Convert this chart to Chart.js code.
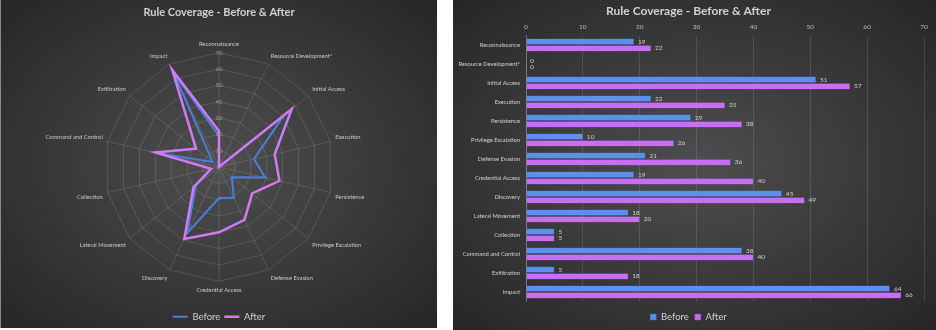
<!DOCTYPE html>
<html>
<head>
<meta charset="utf-8">
<script src="https://cdn.jsdelivr.net/npm/chart.js@4"></script>
<style>
  body { margin: 0; background: #fff; width: 936px; height: 330px; position: relative; overflow: hidden; }
  .painel {
    position: absolute; top: 0; overflow: hidden;
    background: radial-gradient(ellipse at 50% 50%, #4e4e4e 0%, #3c3c3c 45%, #262626 100%);
  }
  #painelRadar { left: 0; width: 437px; height: 328px; border-left: 1px solid #8a8a8a; box-sizing: border-box; }
  #painelBarras { left: 453px; width: 483px; height: 330px; }
  canvas { display: block; }
</style>
</head>
<body>
<div class="painel" id="painelRadar"><canvas id="graficoRadar" width="436" height="328"></canvas></div>
<div class="painel" id="painelBarras"><canvas id="graficoBarras" width="483" height="330"></canvas></div>
<script>
// Dados
const categorias = ['Reconnaissance', 'Resource Development*', 'Initial Access', 'Execution', 'Persistence',
  'Privilege Escalation', 'Defense Evasion', 'Credential Access', 'Discovery', 'Lateral Movement',
  'Collection', 'Command and Control', 'Exfiltration', 'Impact'];
const antes = [19, 0, 51, 22, 29, 10, 21, 19, 45, 18, 5, 38, 5, 64];
const depois = [22, 0, 57, 35, 38, 26, 36, 40, 49, 20, 5, 40, 18, 66];
const titulo = 'Rule Coverage - Before & After';

const corAntes = '#4a7fdc';
const corDepois = '#d07af5';
const corTexto = '#d0d0d0';
const fonte = 'Lato, "Open Sans", sans-serif';

window.addEventListener('DOMContentLoaded', () => {
  montarGraficoRadar();
  montarGraficoBarras();
});

// Gráfico de radar (painel da esquerda)
function montarGraficoRadar() {
  new Chart(document.getElementById('graficoRadar'), {
    type: 'radar',
    data: {
      labels: categorias,
      datasets: [{
        label: 'Before',
        data: antes,
        borderColor: corAntes,
        backgroundColor: 'transparent',
        borderWidth: 2,
        pointRadius: 0,
        order: 2
      }, {
        label: 'After',
        data: depois,
        borderColor: corDepois,
        backgroundColor: 'transparent',
        borderWidth: 2.5,
        pointRadius: 0,
        order: 1
      }]
    },
    options: {
      responsive: false,
      animation: false,
      layout: { padding: { top: 0, left: 0, right: 0, bottom: -3.45 } },
      plugins: {
        title: {
          display: true,
          text: titulo,
          color: corTexto,
          font: { family: fonte, size: 11, weight: 'bold' },
          padding: { top: 6, bottom: 21.6 }
        },
        legend: {
          position: 'bottom',
          // título vazio só para empurrar a área do gráfico para cima
          title: { display: true, text: '', font: { size: 6 }, padding: { top: 7.55, bottom: 0 } },
          labels: {
            color: corTexto,
            font: { family: fonte, size: 9.5 },
            usePointStyle: true,
            pointStyle: 'line',
            pointStyleWidth: 15,
            padding: 4,
            sort: (a, b) => a.datasetIndex - b.datasetIndex
          }
        },
        tooltip: { enabled: false }
      },
      scales: {
        r: {
          min: 0,
          max: 70,
          ticks: {
            stepSize: 10,
            showLabelBackdrop: false,
            color: '#9a9a9a',
            font: { family: fonte, size: 6 },
            z: 1
          },
          grid: { color: 'rgba(255,255,255,0.17)', lineWidth: 0.8 },
          angleLines: { color: 'rgba(255,255,255,0.17)', lineWidth: 0.8 },
          pointLabels: {
            color: '#c8c8c8',
            font: { family: fonte, size: 5.8 },
            padding: 0
          }
        }
      }
    }
  });
}

// Plugin simples para escrever os valores ao lado das barras
const rotulosValores = {
  id: 'rotulosValores',
  afterDatasetsDraw(chart) {
    const ctx = chart.ctx;
    ctx.save();
    ctx.font = '6.5px ' + fonte;
    ctx.fillStyle = corTexto;
    ctx.textBaseline = 'middle';
    ctx.textAlign = 'left';
    chart.data.datasets.forEach((ds, i) => {
      chart.getDatasetMeta(i).data.forEach((barra, j) => {
        ctx.fillText(ds.data[j], barra.x + 4, barra.y);
      });
    });
    ctx.restore();
  }
};

// Gráfico de barras horizontais (painel da direita)
function montarGraficoBarras() {
  new Chart(document.getElementById('graficoBarras'), {
    type: 'bar',
    data: {
      labels: categorias,
      datasets: [{
        label: 'Before',
        data: antes,
        backgroundColor: '#5f8fec',
        borderColor: '#3f6cc8',
        borderWidth: 0.5
      }, {
        label: 'After',
        data: depois,
        backgroundColor: '#c66ff2',
        borderColor: '#9a45c8',
        borderWidth: 0.5
      }]
    },
    plugins: [rotulosValores],
    options: {
      indexAxis: 'y',
      responsive: false,
      animation: false,
      layout: { padding: { top: 0, bottom: -1.75, left: 0, right: 12 } },
      plugins: {
        title: {
          display: true,
          text: titulo,
          color: corTexto,
          font: { family: fonte, size: 12, weight: 'bold', lineHeight: 1 },
          padding: { top: 5.5, bottom: 0 }
        },
        legend: {
          position: 'bottom',
          title: { display: true, text: '', font: { size: 2 }, padding: { top: 2.35, bottom: 0 } },
          labels: {
            color: corTexto,
            font: { family: fonte, size: 9.5 },
            boxWidth: 6,
            boxHeight: 6,
            padding: 6
          }
        },
        tooltip: { enabled: false }
      },
      datasets: {
        bar: { categoryPercentage: 0.7, barPercentage: 0.92 }
      },
      scales: {
        x: {
          position: 'top',
          min: 0,
          max: 70,
          ticks: {
            stepSize: 10,
            color: '#bcbcbc',
            font: { family: fonte, size: 6.5 },
            padding: 5.1
          },
          grid: { color: 'rgba(255,255,255,0.12)', drawTicks: false },
          border: { display: false }
        },
        y: {
          afterFit: (escala) => { escala.width = 73; },
          ticks: {
            color: '#d0d0d0',
            font: { family: fonte, size: 5.8 },
            autoSkip: false,
            padding: 6
          },
          grid: { display: false, drawTicks: false },
          border: { color: 'rgba(255,255,255,0.25)' }
        }
      }
    }
  });
}
</script>
</body>
</html>
